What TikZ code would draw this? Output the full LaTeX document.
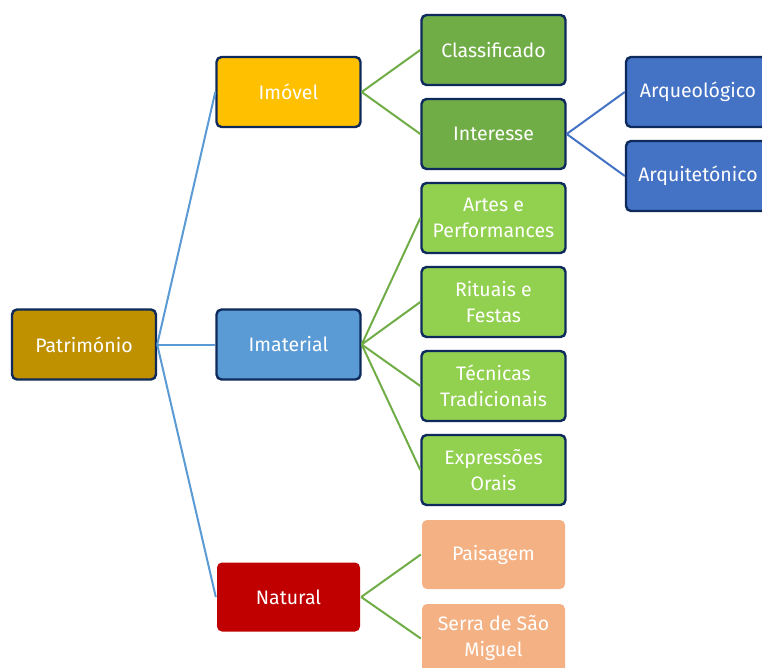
\documentclass[tikz,border=0pt]{standalone}
\usepackage{fontspec}
\setmainfont{Fira Sans}
\begin{document}
\begin{tikzpicture}[x=1pt,y=-1pt,
  box/.style={rectangle, rounded corners=5pt, minimum width=144pt, minimum height=70pt,
    draw=navy, line width=2.4pt, text=white, align=center, font=\fontsize{19.5}{26}\selectfont, inner sep=2pt},
  flat/.style={box, draw=none, minimum width=143pt, minimum height=69pt},
  lb/.style={draw=lblue, line width=2pt},
  lg/.style={draw=lgreen, line width=2pt},
  ld/.style={draw=dblue, line width=2pt}]
\definecolor{navy}{HTML}{0E2A5C}
\definecolor{gold}{HTML}{BF9000}
\definecolor{amber}{HTML}{FFC000}
\definecolor{sky}{HTML}{5B9BD5}
\definecolor{lblue}{HTML}{5B9BD5}
\definecolor{crim}{HTML}{C00000}
\definecolor{green1}{HTML}{70AD47}
\definecolor{lgreen}{HTML}{70AD47}
\definecolor{green2}{HTML}{92D050}
\definecolor{peach}{HTML}{F4B183}
\definecolor{dblue}{HTML}{4472C4}
\useasboundingbox (0,0) rectangle (762,668);
\clip (0,0) rectangle (762,668);
\fill[white] (0,0) rectangle (762,668);
\node[box, fill=gold] (pat) at (84,344.5) {Património};
\node[box, fill=amber] (imo) at (288.5,92) {Imóvel};
\node[box, fill=sky] (ima) at (288.5,344.5) {Imaterial};
\node[flat, fill=crim] (nat) at (288.5,597) {Natural};
\node[box, fill=green1] (cla) at (493.5,50) {Classificado};
\node[box, fill=green1] (int) at (493.5,134) {Interesse};
\node[box, fill=green2] (art) at (493.5,218) {Artes e\\Performances};
\node[box, fill=green2] (rit) at (493.5,302) {Rituais e\\Festas};
\node[box, fill=green2] (tec) at (493.5,386) {Técnicas\\Tradicionais};
\node[box, fill=green2] (exp) at (493.5,470) {Expressões\\Orais};
\node[flat, fill=peach] (pai) at (493.5,554.5) {Paisagem};
\node[flat, fill=peach] (ser) at (493.5,638.5) {Serra de São\\Miguel};
\node[box, fill=dblue] (arq) at (698,92) {Arqueológico};
\node[box, fill=dblue] (arc) at (698,176) {Arquitetónico};
\draw[lb] (pat.east) -- (imo.west);
\draw[lb] (pat.east) -- (ima.west);
\draw[lb] (pat.east) -- (nat.west);
\draw[lg] (imo.east) -- (cla.west);
\draw[lg] (imo.east) -- (int.west);
\draw[lg] (ima.east) -- (art.west);
\draw[lg] (ima.east) -- (rit.west);
\draw[lg] (ima.east) -- (tec.west);
\draw[lg] (ima.east) -- (exp.west);
\draw[lg] (nat.east) -- (pai.west);
\draw[lg] (nat.east) -- (ser.west);
\draw[ld] (int.east) -- (arq.west);
\draw[ld] (int.east) -- (arc.west);
\end{tikzpicture}
\end{document}
